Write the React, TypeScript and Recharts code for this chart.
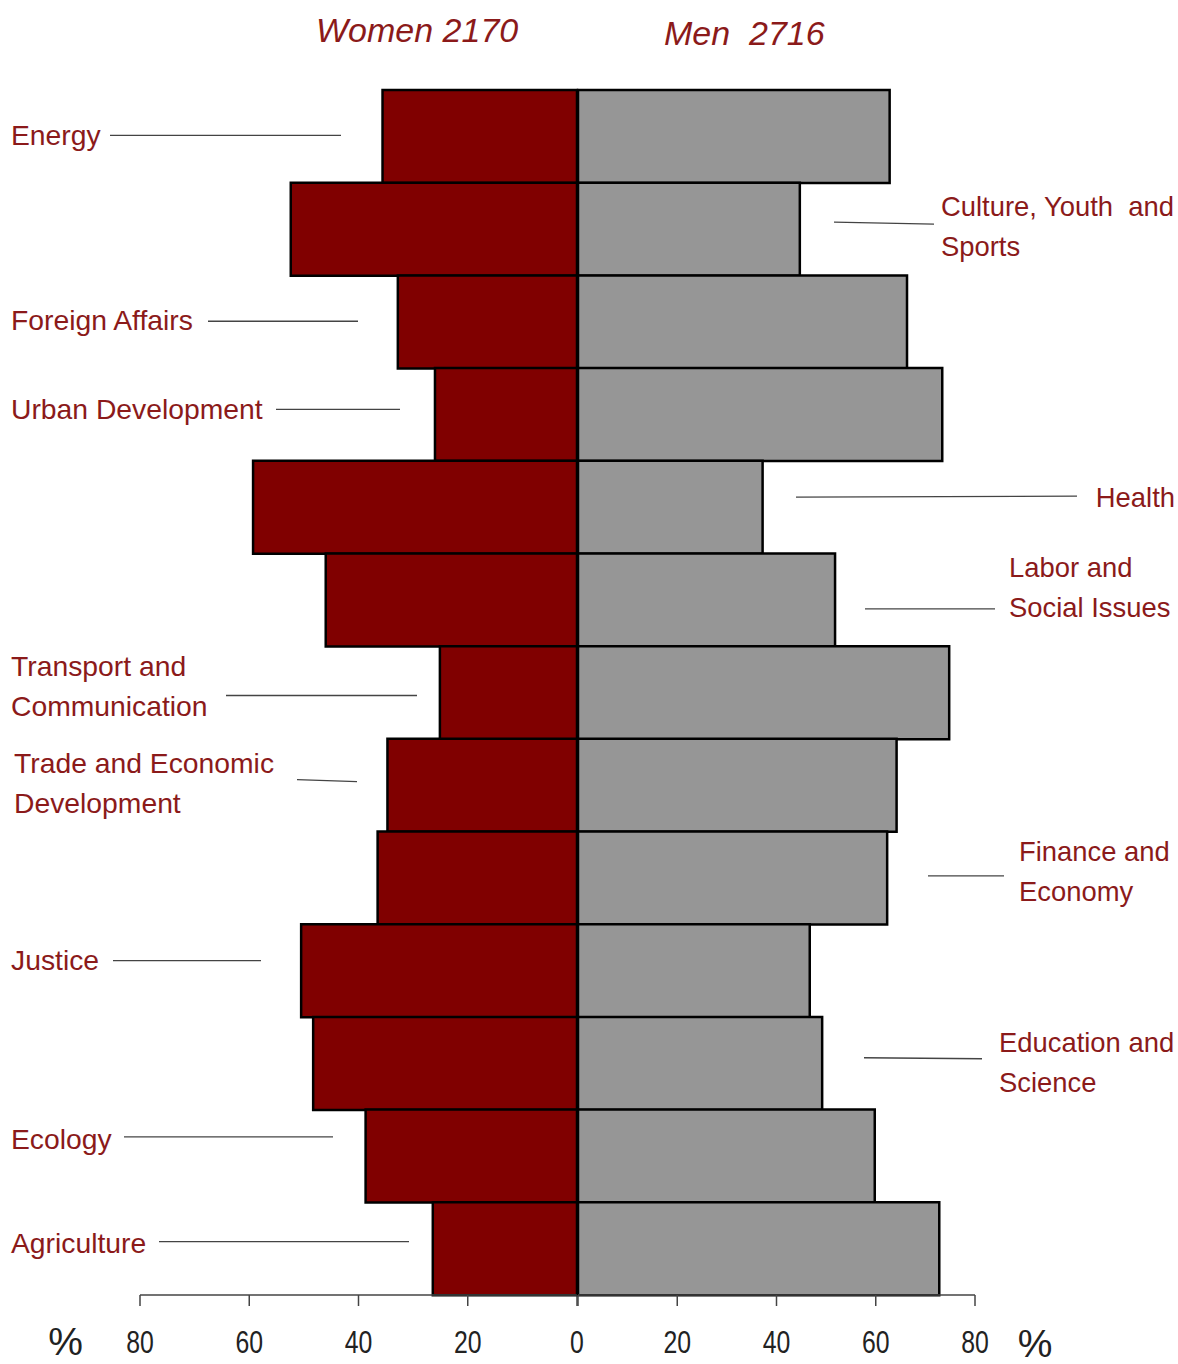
import React from 'react';
import { BarChart, Bar, XAxis, YAxis } from 'recharts';

// ministries, top to bottom
const categories = [
  'Energy',
  'Culture, Youth and Sports',
  'Foreign Affairs',
  'Urban Development',
  'Health',
  'Labor and Social Issues',
  'Transport and Communication',
  'Trade and Economic Development',
  'Finance and Economy',
  'Justice',
  'Education and Science',
  'Ecology',
  'Agriculture',
];

const women = [35.6, 52.4, 32.8, 26.0, 59.3, 46.0, 25.1, 34.7, 36.5, 50.5, 48.3, 38.7, 26.4];
const men = [62.8, 44.7, 66.3, 73.4, 37.2, 51.8, 74.8, 64.2, 62.3, 46.7, 49.2, 59.8, 72.8];

const pctTicks = [0, 20, 40, 60, 80];

const womenTitle = 'Women 2170';
const menTitle = 'Men  2716';

const rows = categories.map((name, i) => ({ name, women: women[i], men: men[i] }));

// where each category label and its leader line sit (page x, y offset from row centre)
type LabelPos = {
  side: 'left' | 'right';
  lines: string[];
  x: number;
  anchor: 'start' | 'end';
  dy: number;
  lx1: number;
  lx2: number;
  ly1: number;
  ly2: number;
};

const labelPos: LabelPos[] = [
  { side: 'left', lines: ['Energy'], x: 11, anchor: 'start', dy: -1, lx1: 110, lx2: 341, ly1: -1, ly2: -1 },
  { side: 'right', lines: ['Culture, Youth  and', 'Sports'], x: 941, anchor: 'start', dy: -23, lx1: 834, lx2: 934, ly1: -7, ly2: -5 },
  { side: 'left', lines: ['Foreign Affairs'], x: 11, anchor: 'start', dy: -1.5, lx1: 208, lx2: 358, ly1: -0.5, ly2: -0.5 },
  { side: 'left', lines: ['Urban Development'], x: 11, anchor: 'start', dy: -5, lx1: 276, lx2: 400, ly1: -5, ly2: -5 },
  { side: 'right', lines: ['Health'], x: 1175, anchor: 'end', dy: -10, lx1: 796, lx2: 1077, ly1: -10, ly2: -11 },
  { side: 'right', lines: ['Labor and', 'Social Issues'], x: 1009, anchor: 'start', dy: -32, lx1: 865, lx2: 995, ly1: 9, ly2: 9 },
  { side: 'left', lines: ['Transport and', 'Communication'], x: 11, anchor: 'start', dy: -27, lx1: 226, lx2: 417, ly1: 3, ly2: 3 },
  { side: 'left', lines: ['Trade and Economic', 'Development'], x: 14, anchor: 'start', dy: -22, lx1: 297, lx2: 357, ly1: -5.6, ly2: -3.6 },
  { side: 'right', lines: ['Finance and', 'Economy'], x: 1019, anchor: 'start', dy: -26, lx1: 928, lx2: 1004, ly1: -2, ly2: -2 },
  { side: 'left', lines: ['Justice'], x: 11, anchor: 'start', dy: -11, lx1: 113, lx2: 261, ly1: -10, ly2: -10 },
  { side: 'right', lines: ['Education and', 'Science'], x: 999, anchor: 'start', dy: -21, lx1: 864, lx2: 982, ly1: -5.5, ly2: -4.5 },
  { side: 'left', lines: ['Ecology'], x: 11, anchor: 'start', dy: -17, lx1: 124, lx2: 333, ly1: -19, ly2: -19 },
  { side: 'left', lines: ['Agriculture'], x: 11, anchor: 'start', dy: -6, lx1: 159, lx2: 409, ly1: -7, ly2: -7 },
];

const RED = '#8b1a1a';
const FONT = "'Liberation Sans', Arial, sans-serif";

const CategoryLabel = (props: any) => {
  const { y, payload, side, pageLeft, fontSize } = props;
  const pos = labelPos[categories.indexOf(payload?.value)];
  if (!pos || pos.side !== side) return <g />;
  return (
    <g>
      <line
        x1={pos.lx1 - pageLeft}
        x2={pos.lx2 - pageLeft}
        y1={y + pos.ly1}
        y2={y + pos.ly2}
        stroke="#444"
        strokeWidth={1.3}
      />
      {pos.lines.map((t, k) => (
        <text
          key={k}
          x={pos.x - pageLeft}
          y={y + pos.dy + k * 40}
          textAnchor={pos.anchor}
          dominantBaseline="central"
          fontFamily={FONT}
          fontSize={fontSize}
          fill={RED}
          style={{ whiteSpace: 'pre' }}
        >
          {t}
        </text>
      ))}
    </g>
  );
};

const PctTick = (props: any) => {
  const { x, y, payload, skipZero } = props;
  if (skipZero && payload.value === 0) return <g />;
  return (
    <text
      transform={`translate(${x},${y}) scale(0.8,1)`}
      textAnchor="middle"
      dominantBaseline="central"
      fontFamily={FONT}
      fontSize={31}
      fill="#222"
    >
      {payload.value}
    </text>
  );
};

export default function App() {
  return (
    <div
      style={{
        position: 'absolute',
        left: 0,
        top: 0,
        width: 1178,
        height: 1364,
        background: '#fff',
        fontFamily: FONT,
      }}
    >
      <div style={{ position: 'absolute', left: 0, top: 0 }}>
        <BarChart
          width={600}
          height={1364}
          data={rows}
          layout="vertical"
          margin={{ top: 90, right: 23, bottom: 0, left: 139 }}
          barCategoryGap={0}
        >
          <XAxis
            type="number"
            domain={[0, 80]}
            reversed
            ticks={pctTicks}
            height={69}
            axisLine={{ stroke: '#444', strokeWidth: 1.5 }}
            tickLine={{ stroke: '#444', strokeWidth: 1.5 }}
            tickSize={11}
            tickMargin={37}
            tick={<PctTick />}
          />
          <YAxis
            type="category"
            dataKey="name"
            width={1}
            axisLine={false}
            tickLine={false}
            interval={0}
            tick={<CategoryLabel side="left" pageLeft={0} fontSize={28.3} />}
          />
          <Bar dataKey="women" fill="#800000" stroke="#000" strokeWidth={2.5} isAnimationActive={false} />
        </BarChart>
      </div>

      <div style={{ position: 'absolute', left: 540, top: 0 }}>
        <BarChart
          width={638}
          height={1364}
          data={rows}
          layout="vertical"
          margin={{ top: 90, right: 202, bottom: 0, left: 38 }}
          barCategoryGap={0}
        >
          <XAxis
            type="number"
            domain={[0, 80]}
            ticks={pctTicks}
            height={69}
            axisLine={{ stroke: '#444', strokeWidth: 1.5 }}
            tickLine={{ stroke: '#444', strokeWidth: 1.5 }}
            tickSize={11}
            tickMargin={37}
            tick={<PctTick skipZero />}
          />
          <YAxis
            type="category"
            dataKey="name"
            orientation="right"
            width={1}
            axisLine={false}
            tickLine={false}
            interval={0}
            tick={<CategoryLabel side="right" pageLeft={540} fontSize={27.4} />}
          />
          <Bar dataKey="men" fill="#969696" stroke="#000" strokeWidth={2.5} isAnimationActive={false} />
        </BarChart>
      </div>

      <svg
        width={1178}
        height={1364}
        style={{ position: 'absolute', left: 0, top: 0, pointerEvents: 'none' }}
      >
        <text x={316} y={30} dominantBaseline="central" fontFamily={FONT} fontStyle="italic" fontSize={34} fill={RED} style={{ whiteSpace: 'pre' }}>
          {womenTitle}
        </text>
        <text x={664} y={33} dominantBaseline="central" fontFamily={FONT} fontStyle="italic" fontSize={34} fill={RED} style={{ whiteSpace: 'pre' }}>
          {menTitle}
        </text>
        <text x={65.5} y={1341} textAnchor="middle" dominantBaseline="central" fontFamily={FONT} fontSize={39} fill="#222">
          %
        </text>
        <text x={1035} y={1343} textAnchor="middle" dominantBaseline="central" fontFamily={FONT} fontSize={39} fill="#222">
          %
        </text>
      </svg>
    </div>
  );
}
